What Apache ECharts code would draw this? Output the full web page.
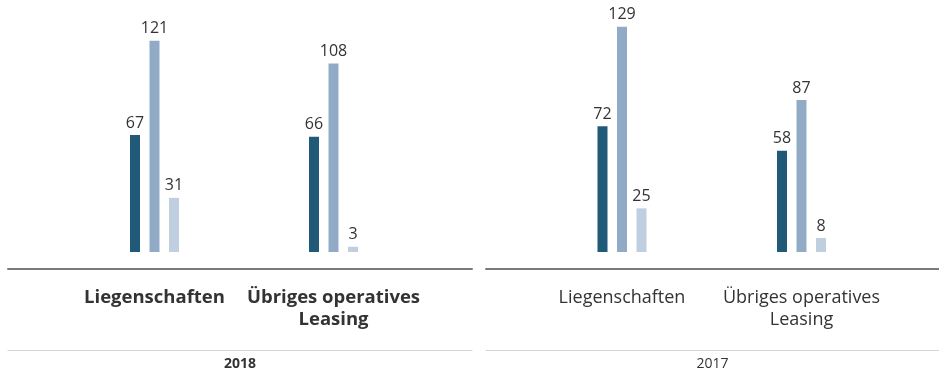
<!DOCTYPE html>
<html>
<head>
<meta charset="utf-8">
<script src="https://cdn.jsdelivr.net/npm/echarts@6/dist/echarts.min.js"></script>
<style>
  html, body { margin: 0; padding: 0; background: #fff; }
  #chart { width: 939px; height: 376px; }
</style>
</head>
<body>
<div id="chart"></div>
<script>
// Categories and values (Mio.)
const categories = ['Liegenschaften', 'Übriges operatives\nLeasing'];
const years = ['2018', '2017'];
const darkValues2018 = [67, 66];
const midValues2018 = [121, 108];
const lightValues2018 = [31, 3];
const darkValues2017 = [72, 58];
const midValues2017 = [129, 87];
const lightValues2017 = [25, 8];

const colors = ['#215a78', '#91abc6', '#bfcfdf'];
const FONT = '"Open Sans", sans-serif';
const textColor = '#333333';

function barSeries(axisIndex, values, color) {
  return {
    type: 'bar',
    xAxisIndex: axisIndex,
    yAxisIndex: axisIndex,
    data: values,
    barWidth: 10,
    barGap: '95%',
    itemStyle: { color: color },
    label: {
      show: true,
      position: 'top',
      distance: 4,
      fontFamily: FONT,
      fontSize: 16,
      color: textColor
    },
    silent: true
  };
}

function catAxis(gridIndex, bold) {
  return {
    type: 'category',
    gridIndex: gridIndex,
    data: categories,
    axisLine: { show: false },
    axisTick: { show: false },
    axisLabel: {
      margin: 35,
      fontFamily: FONT,
      fontSize: bold ? 18.5 : 18,
      fontWeight: bold ? 'bold' : 'normal',
      color: textColor,
      lineHeight: 22,
      interval: 0
    }
  };
}

function valAxis(gridIndex) {
  return {
    type: 'value',
    gridIndex: gridIndex,
    min: 0,
    max: 140,
    show: false
  };
}

// Rule lines beneath each panel: dark axis line on top, light line above the year
function ruleAxisTop(gridIndex) {
  return {
    type: 'value', gridIndex: gridIndex, position: 'top', min: 0, max: 1,
    axisLine: { show: true, onZero: false, lineStyle: { color: '#7a7a7a', width: 2 } },
    axisTick: { show: false }, axisLabel: { show: false }, splitLine: { show: false }
  };
}
function ruleAxisBottom(gridIndex, year, bold) {
  return {
    type: 'value', gridIndex: gridIndex, position: 'bottom', min: 0, max: 1,
    axisLine: { show: true, onZero: false, lineStyle: { color: '#d6d6d6', width: 1 } },
    axisTick: { show: false }, axisLabel: { show: false }, splitLine: { show: false },
    name: year, nameLocation: 'middle', nameGap: 7,
    nameTextStyle: { fontFamily: FONT, fontSize: 14, fontWeight: bold ? 'bold' : 'normal', color: textColor }
  };
}

const chart = echarts.init(document.getElementById('chart'), null, { renderer: 'canvas' });
chart.setOption({
  backgroundColor: '#ffffff',
  animation: false,
  grid: [
    { left: 65, width: 358, top: 7.56, bottom: 124 },
    { left: 532.25, width: 359, top: 7.56, bottom: 124 },
    { left: 8, width: 464, top: 269, height: 81 },
    { left: 486, width: 467, top: 269, height: 81 }
  ],
  xAxis: [
    catAxis(0, true),
    catAxis(1, false),
    ruleAxisTop(2),
    ruleAxisBottom(2, years[0], true),
    ruleAxisTop(3),
    ruleAxisBottom(3, years[1], false)
  ],
  yAxis: [
    valAxis(0),
    valAxis(1),
    { type: 'value', gridIndex: 2, show: false },
    { type: 'value', gridIndex: 3, show: false }
  ],
  series: [
    barSeries(0, darkValues2018, colors[0]),
    barSeries(0, midValues2018, colors[1]),
    barSeries(0, lightValues2018, colors[2]),
    barSeries(1, darkValues2017, colors[0]),
    barSeries(1, midValues2017, colors[1]),
    barSeries(1, lightValues2017, colors[2])
  ]
});
</script>
</body>
</html>
